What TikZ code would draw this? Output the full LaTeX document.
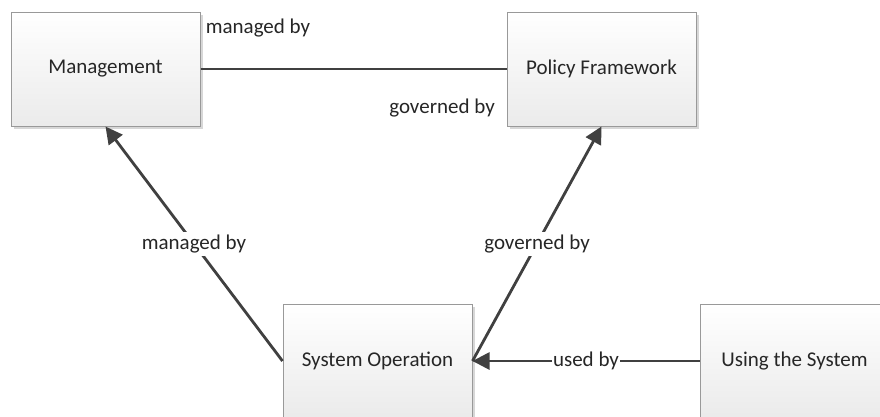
\documentclass[tikz,border=0pt]{standalone}
\usepackage{fontspec}
\setmainfont{Carlito}
\usetikzlibrary{arrows.meta,shadows}
\definecolor{linegray}{HTML}{404040}
\definecolor{boxline}{HTML}{999999}
\tikzset{
  entity/.style={draw=boxline, line width=1pt, minimum width=189pt, minimum height=114pt,
    top color=white, bottom color=black!8, inner sep=0pt,
    drop shadow={shadow xshift=2.5pt, shadow yshift=-2.5pt, fill=black!22, opacity=0.7},
    font=\fontsize{21}{25}\selectfont, text=black!85},
  link/.style={draw=linegray, line width=2.8pt},
  arrowlink/.style={link, -{Triangle[length=17pt,width=17pt]}},
  lbl/.style={font=\fontsize{21}{25}\selectfont, text=black!85, inner sep=1pt},
  midlbl/.style={lbl, fill=white, midway, inner sep=3pt}
}
\begin{document}
\begin{tikzpicture}[x=1pt, y=-1pt]
  \clip (0,0) rectangle (880,416);
  \fill[white] (0,0) rectangle (880,416);

  \node[entity] (mgmt)   at (105.5,69)  {Management};
  \node[entity] (policy) at (601.5,69)  {Policy Framework};
  \node[entity] (sysop)  at (377.5,361) {System Operation};
  \node[entity] (using)  at (794.5,361) {Using the System};

  % association between management and policy
  \draw[link] (mgmt.east) -- (policy.west);
  \node[lbl] (lblmanaged) at (258,28) {managed by};
  \node[lbl] (lblgoverned) at (442,108) {governed by};

  % directed relations
  \draw[arrowlink] (sysop.west) -- node[midlbl] {managed by} (mgmt.south);
  \draw[arrowlink] (sysop.east) -- node[midlbl] {governed by} (policy.south);
  \draw[arrowlink] (using.west) -- node[midlbl, inner sep=1pt] {used by} (sysop.east);
\end{tikzpicture}
\end{document}
